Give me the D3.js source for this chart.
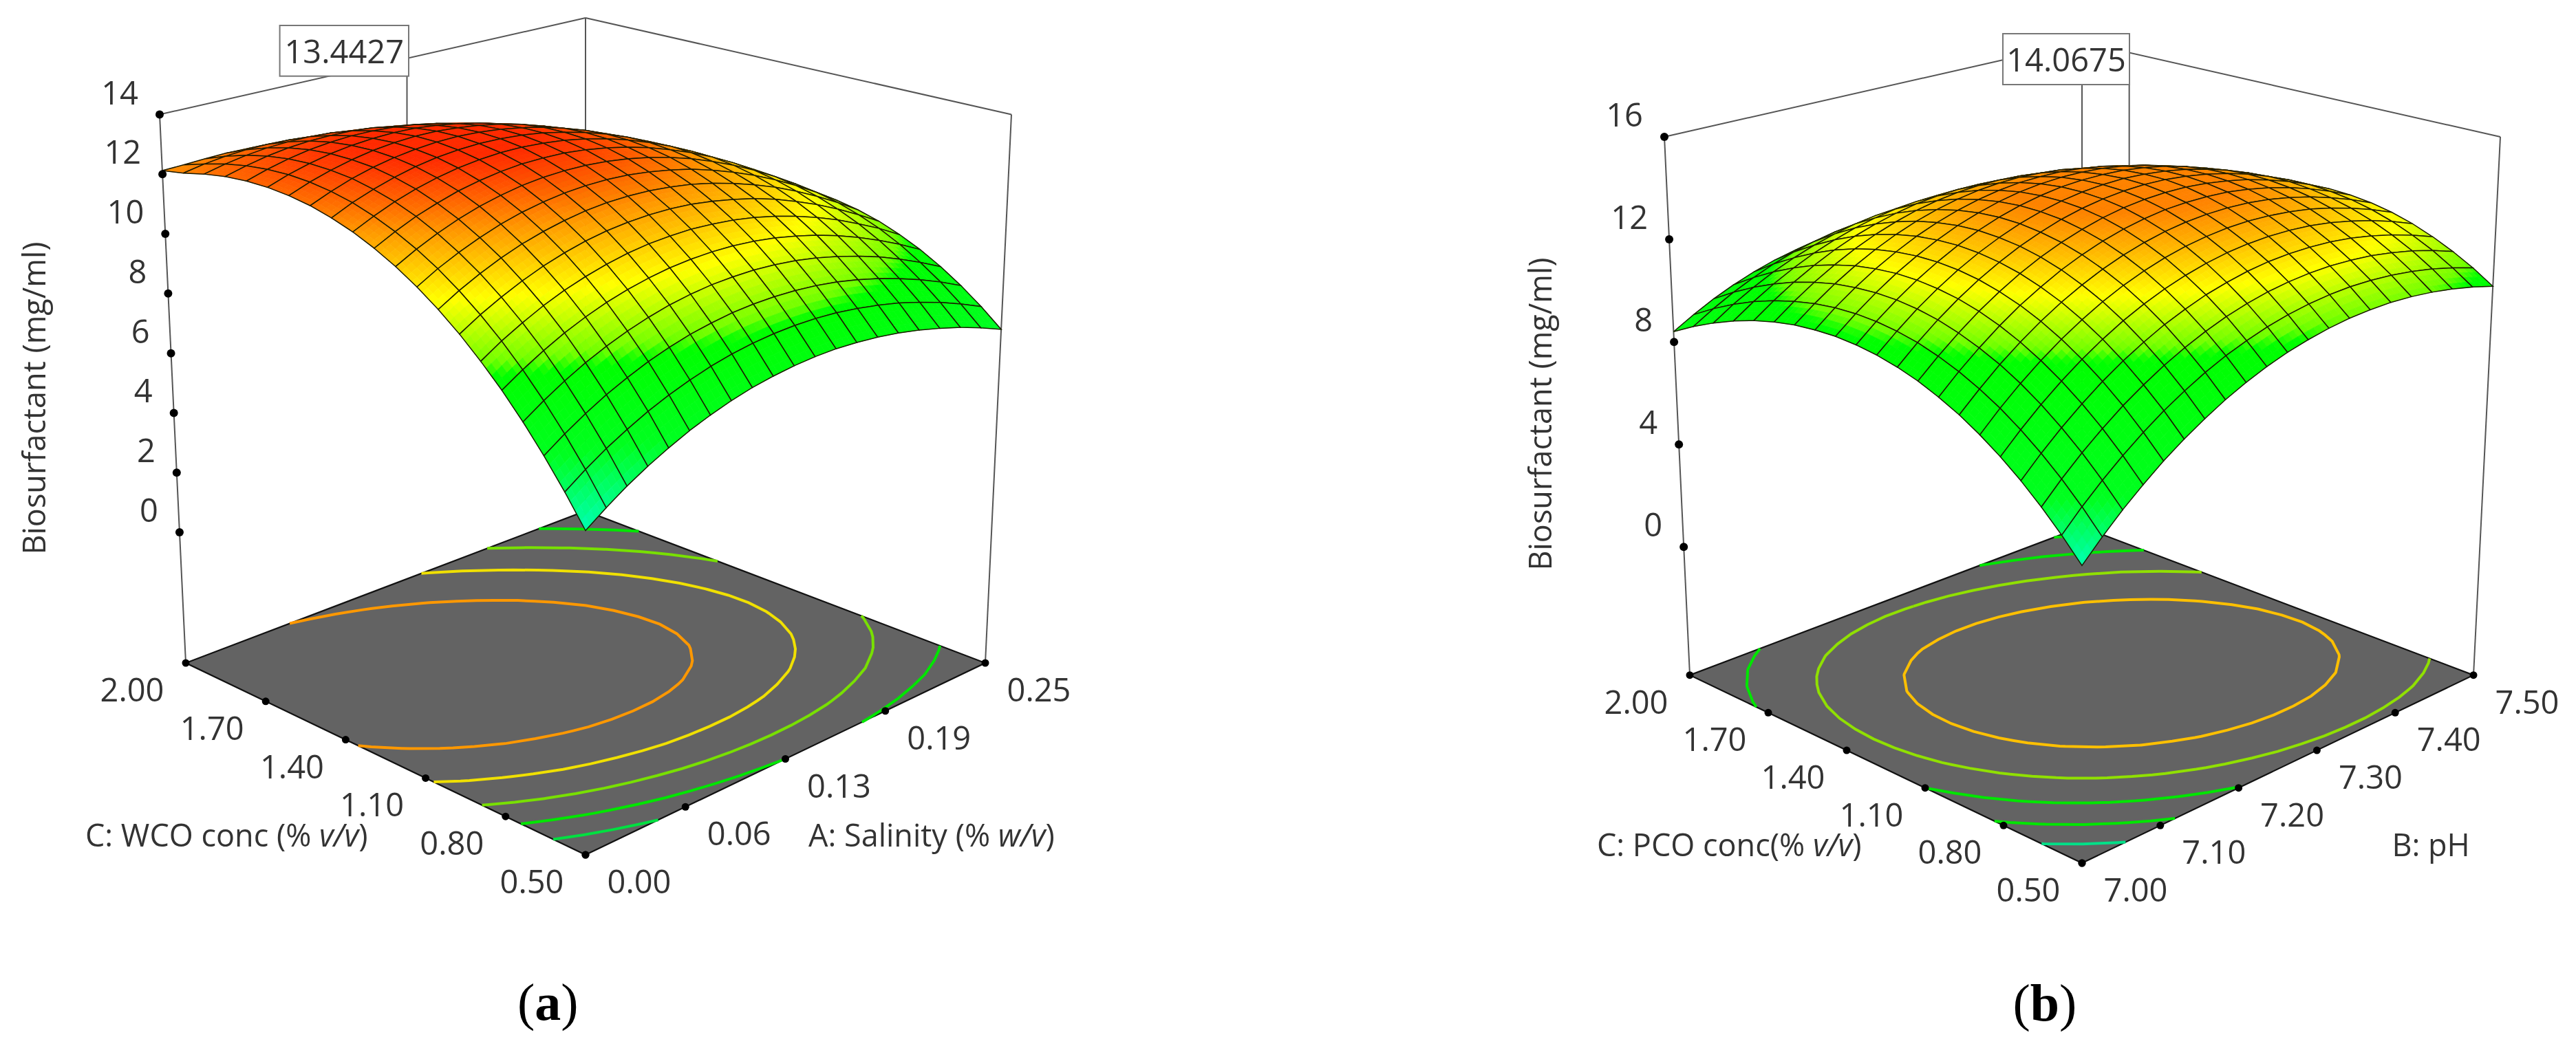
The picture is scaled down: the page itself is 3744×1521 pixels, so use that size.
<!DOCTYPE html>
<html>
<head>
<meta charset="utf-8">
<script src="https://cdn.jsdelivr.net/npm/d3@7"></script>
<style>
  body { margin: 0; background: #fff; }
  svg { filter: blur(0.6px); }
  text { font-family: "Open Sans", sans-serif; fill: #333; }
</style>
</head>
<body>
<div id="chart"></div>
<script>
// ===============Values
// surface rows run along C (0.50 to 2.00), columns along the other factor
var surfaceA = [
  [5.25,5.70,6.12,6.49,6.82,7.12,7.37,7.59,7.77,7.90,8.00,8.06,8.08,8.05,7.99,7.89,7.75,7.57,7.36,7.10,6.80],
  [6.17,6.62,7.03,7.39,7.72,8.00,8.24,8.45,8.61,8.73,8.81,8.85,8.85,8.81,8.72,8.60,8.44,8.23,7.99,7.70,7.37],
  [7.03,7.47,7.87,8.23,8.54,8.82,9.05,9.24,9.38,9.49,9.55,9.57,9.55,9.49,9.39,9.24,9.05,8.82,8.55,8.24,7.88],
  [7.83,8.26,8.65,9.00,9.30,9.56,9.78,9.96,10.09,10.18,10.22,10.23,10.19,10.11,9.98,9.81,9.60,9.35,9.05,8.71,8.33],
  [8.57,8.99,9.37,9.71,10.00,10.25,10.45,10.61,10.73,10.80,10.83,10.82,10.76,10.66,10.51,10.32,10.09,9.81,9.49,9.13,8.72],
  [9.24,9.66,10.02,10.35,10.63,10.86,11.05,11.20,11.30,11.35,11.37,11.33,11.26,11.14,10.97,10.76,10.51,10.21,9.86,9.48,9.04],
  [9.86,10.26,10.61,10.92,11.19,11.41,11.59,11.72,11.80,11.84,11.84,11.79,11.69,11.55,11.37,11.14,10.86,10.54,10.17,9.76,9.31],
  [10.41,10.80,11.14,11.44,11.69,11.89,12.05,12.17,12.24,12.26,12.24,12.17,12.06,11.90,11.69,11.44,11.15,10.81,10.42,9.99,9.51],
  [10.90,11.28,11.60,11.88,12.12,12.31,12.45,12.55,12.60,12.61,12.57,12.48,12.35,12.18,11.95,11.68,11.37,11.01,10.60,10.15,9.65],
  [11.33,11.69,12.00,12.27,12.49,12.66,12.79,12.87,12.90,12.89,12.83,12.73,12.58,12.39,12.15,11.86,11.53,11.15,10.72,10.25,9.73],
  [11.70,12.04,12.34,12.58,12.79,12.94,13.05,13.12,13.13,13.11,13.03,12.91,12.74,12.53,12.27,11.97,11.62,11.22,10.78,10.29,9.75],
  [12.01,12.33,12.61,12.84,13.02,13.16,13.25,13.30,13.30,13.25,13.16,13.02,12.84,12.61,12.33,12.01,11.64,11.23,10.77,10.26,9.71],
  [12.25,12.56,12.81,13.02,13.19,13.31,13.38,13.41,13.39,13.33,13.22,13.06,12.86,12.62,12.32,11.98,11.60,11.17,10.69,10.17,9.60],
  [12.44,12.72,12.96,13.15,13.29,13.39,13.45,13.46,13.42,13.34,13.21,13.04,12.82,12.56,12.25,11.89,11.49,11.05,10.56,10.02,9.44],
  [12.56,12.82,13.03,13.20,13.33,13.41,13.45,13.44,13.38,13.28,13.14,12.95,12.71,12.43,12.11,11.74,11.32,10.86,10.35,9.80,9.21],
  [12.62,12.86,13.05,13.20,13.30,13.36,13.38,13.35,13.27,13.15,12.99,12.78,12.53,12.24,11.90,11.51,11.08,10.61,10.09,9.53,8.92],
  [12.62,12.83,13.00,13.13,13.21,13.25,13.24,13.19,13.10,12.96,12.78,12.56,12.29,11.98,11.62,11.22,10.78,10.29,9.76,9.19,8.57],
  [12.56,12.74,12.89,12.99,13.05,13.06,13.04,12.97,12.85,12.70,12.50,12.26,11.97,11.65,11.28,10.86,10.41,9.91,9.37,8.78,8.16],
  [12.43,12.59,12.71,12.79,12.82,12.82,12.77,12.68,12.54,12.37,12.15,11.89,11.59,11.25,10.87,10.44,9.97,9.46,8.91,8.32,7.68],
  [12.25,12.38,12.47,12.52,12.53,12.50,12.43,12.32,12.16,11.97,11.74,11.46,11.14,10.79,10.39,9.95,9.47,8.95,8.39,7.79,7.15],
  [12.12,12.14,12.17,12.19,12.17,12.12,12.02,11.89,11.72,11.50,11.25,10.96,10.63,10.26,9.84,9.39,8.90,8.38,7.81,7.20,6.55]
];
var surfaceB = [
  [5.30,6.03,6.71,7.33,7.91,8.43,8.90,9.33,9.70,10.02,10.29,10.50,10.67,10.79,10.85,10.87,10.83,10.74,10.60,10.41,10.17],
  [6.09,6.82,7.49,8.11,8.68,9.20,9.66,10.08,10.44,10.74,11.00,11.20,11.35,11.45,11.50,11.49,11.43,11.32,11.16,10.94,10.68],
  [6.81,7.54,8.21,8.82,9.39,9.89,10.35,10.75,11.10,11.40,11.64,11.83,11.96,12.04,12.07,12.04,11.97,11.83,11.65,11.41,11.11],
  [7.47,8.19,8.85,9.46,10.02,10.52,10.96,11.36,11.69,11.98,12.20,12.38,12.50,12.56,12.57,12.53,12.43,12.27,12.06,11.80,11.48],
  [8.06,8.77,9.43,10.03,10.58,11.07,11.51,11.89,12.21,12.48,12.70,12.86,12.96,13.01,13.00,12.94,12.82,12.64,12.41,12.13,11.79],
  [8.58,9.29,9.94,10.53,11.07,11.55,11.98,12.35,12.66,12.92,13.12,13.26,13.35,13.38,13.35,13.27,13.14,12.94,12.69,12.39,12.03],
  [9.04,9.73,10.38,10.96,11.49,11.96,12.37,12.73,13.03,13.27,13.46,13.59,13.66,13.68,13.64,13.54,13.38,13.17,12.90,12.58,12.20],
  [9.42,10.11,10.74,11.32,11.84,12.29,12.70,13.04,13.33,13.56,13.73,13.85,13.90,13.90,13.85,13.73,13.56,13.33,13.04,12.70,12.30],
  [9.75,10.42,11.04,11.61,12.11,12.56,12.95,13.28,13.55,13.77,13.93,14.03,14.07,14.06,13.98,13.85,13.67,13.42,13.12,12.76,12.34],
  [10.00,10.67,11.28,11.83,12.32,12.75,13.13,13.44,13.71,13.91,14.05,14.14,14.17,14.14,14.05,13.90,13.70,13.44,13.12,12.74,12.31],
  [10.19,10.84,11.44,11.97,12.45,12.87,13.23,13.54,13.78,13.97,14.10,14.17,14.19,14.14,14.04,13.88,13.66,13.39,13.05,12.66,12.21],
  [10.31,10.95,11.53,12.05,12.51,12.92,13.27,13.56,13.79,13.96,14.08,14.13,14.13,14.08,13.96,13.79,13.55,13.26,12.92,12.51,12.05],
  [10.37,10.99,11.55,12.06,12.50,12.89,13.23,13.50,13.72,13.88,13.98,14.02,14.01,13.94,13.81,13.62,13.37,13.07,12.71,12.29,11.82],
  [10.35,10.96,11.50,11.99,12.42,12.80,13.11,13.37,13.57,13.72,13.81,13.83,13.81,13.72,13.58,13.38,13.12,12.81,12.44,12.01,11.52],
  [10.28,10.86,11.39,11.86,12.27,12.63,12.93,13.17,13.36,13.49,13.56,13.58,13.53,13.44,13.28,13.07,12.80,12.47,12.09,11.65,11.16],
  [10.13,10.69,11.20,11.65,12.05,12.39,12.67,12.90,13.07,13.18,13.24,13.24,13.19,13.08,12.91,12.69,12.41,12.07,11.68,11.23,10.73],
  [9.92,10.46,10.95,11.38,11.76,12.08,12.34,12.55,12.71,12.80,12.85,12.84,12.77,12.64,12.47,12.23,11.94,11.60,11.20,10.74,10.23],
  [9.64,10.16,10.62,11.03,11.39,11.69,11.94,12.13,12.27,12.35,12.38,12.35,12.27,12.14,11.95,11.70,11.40,11.05,10.64,10.18,9.66],
  [9.29,9.79,10.23,10.62,10.95,11.23,11.46,11.64,11.76,11.82,11.84,11.80,11.71,11.56,11.36,11.10,10.80,10.44,10.02,9.55,9.03],
  [8.88,9.35,9.77,10.13,10.45,10.71,10.91,11.07,11.17,11.23,11.22,11.17,11.07,10.91,10.70,10.43,10.12,9.75,9.33,8.86,8.34],
  [8.40,8.84,9.24,9.58,9.87,10.11,10.29,10.43,10.52,10.55,10.54,10.47,10.35,10.18,9.96,9.69,9.37,9.00,8.57,8.10,7.57]
];

var zTicksA = [14, 12, 10, 8, 6, 4, 2, 0];
var zTicksB = [16, 12, 8, 4, 0];
var xTicksA = ["0.00", "0.06", "0.13", "0.19", "0.25"];
var xValuesA = [0, 0.0625, 0.125, 0.1875, 0.25];
var xTicksB = ["7.00", "7.10", "7.20", "7.30", "7.40", "7.50"];
var xValuesB = [7, 7.1, 7.2, 7.3, 7.4, 7.5];
var cTicks = ["0.50", "0.80", "1.10", "1.40", "1.70", "2.00"];
var cValues = [0.5, 0.8, 1.1, 1.4, 1.7, 2];
var levelsA = [6.7, 8.0, 9.35, 10.7, 12.1];
var levelsB = [6.85, 8.3, 9.75, 11.2, 12.65];
var levelColorsA = ["#00e040", "#00e600", "#78e000", "#f0e000", "#ff9800"];
var levelColorsB = ["#00e088", "#00e600", "#00e600", "#90e000", "#ffc000"];

var svg = d3.select("#chart").append("svg")
  .attr("width", 3744)
  .attr("height", 1521);

drawPanel({
  surface: surfaceA, zTicks: zTicksA, xTicks: xTicksA, xValues: xValuesA,
  levels: levelsA, levelColors: levelColorsA,
  xDomain: [0, 0.25], zDomain: [-4.378, 14],
  floor: { F: [851, 1243], R: [1432, 964], L: [270, 964], B: [851, 743] },
  top: { F: [851, 343], R: [1470, 166.5], L: [232, 166.5], B: [851, 26] },
  colorDomain: [5.25, 7, 8.9, 9.2, 10.6, 12, 13.3],
  colorRange: ["#00ffb4", "#00ff20", "#00ff00", "#70ff00", "#ffff00", "#ff9a00", "#ff2a00"],
  peak: [0.07, 1.55, 13.4427], peakLabel: "13.4427", box: [406.6, 37, 187.4, 73.7],
  zTitle: [66, 579], xTitle: ["A: Salinity", " ", "(% ", "w/v", ")"], xTitlePos: [1175, 1231],
  cTitle: ["C: WCO conc", " ", "(% ", "v/v", ")"], cTitlePos: [124, 1231],
  caption: ["(", "a", ")"], captionPos: [752, 1483]
});

drawPanel({
  surface: surfaceB, zTicks: zTicksB, xTicks: xTicksB, xValues: xValuesB,
  levels: levelsB, levelColors: levelColorsB,
  xDomain: [7, 7.5], zDomain: [-5, 16],
  floor: { F: [3026, 1255], R: [3595, 981.7], L: [2456, 981.7], B: [3026, 766] },
  top: { F: [3026, 373], R: [3634, 199], L: [2419, 199], B: [3026, 61] },
  colorDomain: [5.3, 7, 10.5, 10.8, 12.1, 13.85],
  colorRange: ["#00ffb4", "#00ff20", "#00ff00", "#70ff00", "#ffff00", "#ff8200"],
  peak: [7.3, 1.23, 14.0675], peakLabel: "14.0675", box: [2911, 49, 184, 74],
  zTitle: [2255, 602], xTitle: ["B: pH"], xTitlePos: [3476.5, 1244.5],
  cTitle: ["C: PCO conc", "", "(% ", "v/v", ")"], cTitlePos: [2321, 1244.5],
  caption: ["(", "b", ")"], captionPos: [2925.5, 1484]
});

function bilinear(q, u, v) {
  return [0, 1].map(function(k) {
    return q.F[k] * (1 - u) * (1 - v) + q.R[k] * u * (1 - v) + q.L[k] * (1 - u) * v + q.B[k] * u * v;
  });
}

function drawPanel(p) {
  var g = svg.append("g");
  var n = p.surface.length - 1;

  var xScale = d3.scaleLinear().domain(p.xDomain).range([0, 1]);
  var cScale = d3.scaleLinear().domain([0.5, 2]).range([0, 1]);
  var zScale = d3.scaleLinear().domain(p.zDomain).range([0, 1]);
  var color = d3.scaleLinear().domain(p.colorDomain).range(p.colorRange).clamp(true);

  // (u, v) on the floor, z up the box
  function project(u, v, z) {
    var a = bilinear(p.floor, u, v), b = bilinear(p.top, u, v), t = zScale(z);
    return [a[0] + (b[0] - a[0]) * t, a[1] + (b[1] - a[1]) * t];
  }
  var zMin = p.zDomain[0], zMax = p.zDomain[1];

  // ===========box behind the surface
  var boxLines = [
    [project(0, 1, zMax), project(1, 1, zMax)],
    [project(1, 1, zMax), project(1, 0, zMax)],
    [project(0, 1, zMax), project(0, 1, zMin)],
    [project(1, 0, zMax), project(1, 0, zMin)],
    [project(1, 1, zMax), project(1, 1, zMin)]
  ];
  g.selectAll(".box").data(boxLines).enter().append("path")
    .attr("d", d3.line())
    .attr("fill", "none")
    .attr("stroke", "#555")
    .attr("stroke-width", 2);

  // ===========floor
  g.append("path")
    .attr("d", d3.line()([project(0, 0, zMin), project(1, 0, zMin), project(1, 1, zMin), project(0, 1, zMin)]) + "Z")
    .attr("fill", "#636363")
    .attr("stroke", "#111")
    .attr("stroke-width", 2.2);

  // ===========contours on the floor
  var flat = [];
  p.surface.forEach(function(row) { row.forEach(function(d) { flat.push(d); }); });
  var size = n + 1;
  var contours = d3.contours().size([size, size]).thresholds(p.levels)(flat);
  contours.forEach(function(c, level) {
    c.coordinates.forEach(function(poly) {
      poly.forEach(function(ring) {
        var piece = [];
        function flush() {
          if (piece.length > 1) {
            g.append("path")
              .attr("d", d3.line()(piece))
              .attr("fill", "none")
              .attr("stroke", p.levelColors[level])
              .attr("stroke-width", 4);
          }
          piece = [];
        }
        // the part of a ring on the grid border is not a contour
        ring.forEach(function(pt) {
          if (pt[0] <= 0 || pt[0] >= size || pt[1] <= 0 || pt[1] >= size) {
            flush();
          } else {
            piece.push(project((pt[0] - 0.5) / n, (pt[1] - 0.5) / n, zMin));
          }
        });
        flush();
      });
    });
  });

  // ===========flag line to the peak
  var peakPt = project(xScale(p.peak[0]), cScale(p.peak[1]), p.peak[2]);
  g.append("line")
    .attr("x1", peakPt[0]).attr("y1", p.box[1] + p.box[3])
    .attr("x2", peakPt[0]).attr("y2", peakPt[1])
    .attr("stroke", "#555")
    .attr("stroke-width", 2);

  // ===========surface, back to front
  var sub = 4;
  for (var j = n - 1; j >= 0; j--) {
    for (var i = n - 1; i >= 0; i--) {
      var z00 = p.surface[j][i], z10 = p.surface[j][i + 1], z01 = p.surface[j + 1][i], z11 = p.surface[j + 1][i + 1];
      // shade each cell in small pieces so the colour runs smoothly
      for (var b = sub - 1; b >= 0; b--) {
        for (var a = sub - 1; a >= 0; a--) {
          var corner = [[a, b], [a + 1, b], [a + 1, b + 1], [a, b + 1]].map(function(s) {
            var fu = s[0] / sub, fv = s[1] / sub;
            var z = z00 * (1 - fu) * (1 - fv) + z10 * fu * (1 - fv) + z01 * (1 - fu) * fv + z11 * fu * fv;
            return { pt: project((i + fu) / n, (j + fv) / n, z), z: z };
          });
          var c = color(d3.mean(corner, function(d) { return d.z; }));
          g.append("path")
            .attr("d", d3.line()(corner.map(function(d) { return d.pt; })) + "Z")
            .attr("fill", c)
            .attr("stroke", c)
            .attr("stroke-width", 0.8);
        }
      }
      g.append("path")
        .attr("d", d3.line()([
          project(i / n, j / n, z00), project((i + 1) / n, j / n, z10),
          project((i + 1) / n, (j + 1) / n, z11), project(i / n, (j + 1) / n, z01)
        ]) + "Z")
        .attr("fill", "none")
        .attr("stroke", "#1a1a00")
        .attr("stroke-width", 1.5);
    }
  }

  // ===========tick dots and labels
  g.selectAll(".zdot").data(p.zTicks).enter().append("circle")
    .attr("cx", function(d) { return project(0, 1, d)[0]; })
    .attr("cy", function(d) { return project(0, 1, d)[1]; })
    .attr("r", 6).attr("fill", "#000");
  g.selectAll(".zlab").data(p.zTicks).enter().append("text")
    .attr("x", function(d) { return project(0, 1, d)[0] - 31; })
    .attr("y", function(d) { return project(0, 1, d)[1] - 15; })
    .attr("text-anchor", "end")
    .attr("font-size", 47)
    .text(function(d) { return d; });

  p.xValues.forEach(function(d, idx) {
    var pt = project(xScale(d), 0, zMin);
    g.append("circle").attr("cx", pt[0]).attr("cy", pt[1]).attr("r", 5.5).attr("fill", "#000");
    g.append("text").attr("x", pt[0] + 78).attr("y", pt[1] + 56)
      .attr("text-anchor", "middle").attr("font-size", 47).text(p.xTicks[idx]);
  });
  cValues.forEach(function(d, idx) {
    var pt = project(0, cScale(d), zMin);
    g.append("circle").attr("cx", pt[0]).attr("cy", pt[1]).attr("r", 5.5).attr("fill", "#000");
    g.append("text").attr("x", pt[0] - 78).attr("y", pt[1] + 56)
      .attr("text-anchor", "middle").attr("font-size", 47).text(cTicks[idx]);
  });

  // ===========titles
  g.append("text")
    .attr("transform", "translate(" + p.zTitle[0] + "," + p.zTitle[1] + ") rotate(-90)")
    .attr("text-anchor", "middle")
    .attr("font-size", 45)
    .text("Biosurfactant (mg/ml)");

  function title(parts, pos) {
    var t = g.append("text").attr("x", pos[0]).attr("y", pos[1]).attr("font-size", 45);
    parts.forEach(function(s, idx) {
      t.append("tspan").attr("font-style", idx === 3 ? "italic" : "normal").text(s);
    });
  }
  title(p.xTitle, p.xTitlePos);
  title(p.cTitle, p.cTitlePos);

  // ===========value flag
  g.append("rect")
    .attr("x", p.box[0]).attr("y", p.box[1]).attr("width", p.box[2]).attr("height", p.box[3])
    .attr("fill", "#fff").attr("stroke", "#777").attr("stroke-width", 2);
  g.append("text")
    .attr("x", p.box[0] + p.box[2] / 2).attr("y", p.box[1] + 55)
    .attr("text-anchor", "middle").attr("font-size", 47)
    .text(p.peakLabel);

  // ===========panel caption
  var cap = svg.append("text").attr("x", p.captionPos[0]).attr("y", p.captionPos[1])
    .attr("font-size", 76).style("font-family", "'Liberation Serif', serif").style("fill", "#000");
  cap.append("tspan").text(p.caption[0]);
  cap.append("tspan").attr("font-weight", "bold").text(p.caption[1]);
  cap.append("tspan").text(p.caption[2]);
}
</script>
</body>
</html>
